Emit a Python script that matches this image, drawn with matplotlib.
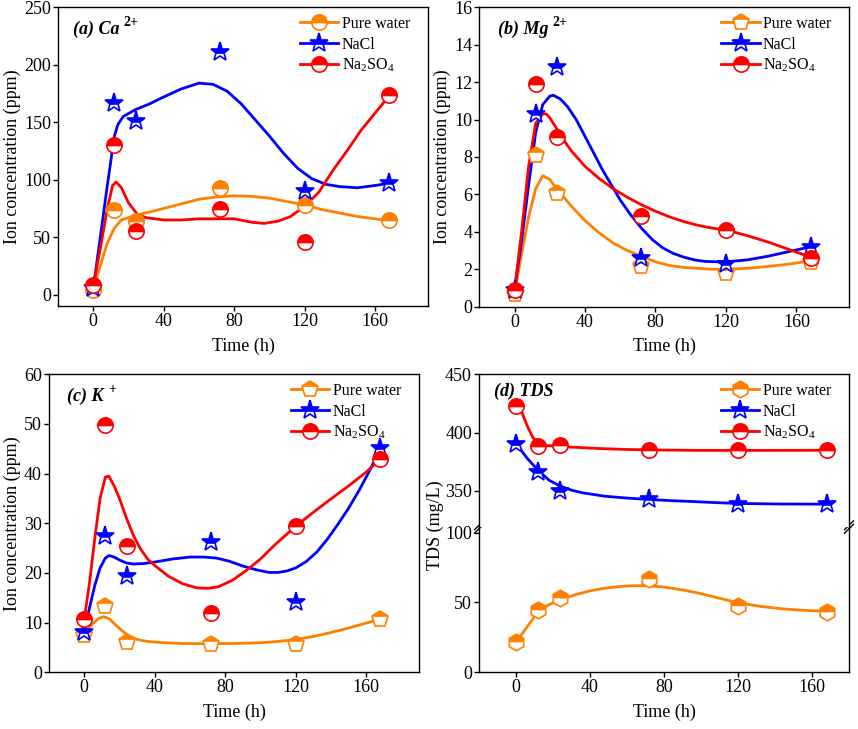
import matplotlib.pyplot as plt
from matplotlib.lines import Line2D

plt.rcParams['font.family'] = ['Liberation Serif', 'DejaVu Serif']
plt.rcParams['mathtext.fontset'] = 'custom'
plt.rcParams['mathtext.rm'] = 'Liberation Serif'
plt.rcParams['mathtext.it'] = 'Liberation Serif:italic'
plt.rcParams['mathtext.bf'] = 'Liberation Serif:bold'

# sampling times (h)
time = [0, 12, 24, 72, 120, 168]
labels = ['Pure water', 'NaCl', r'Na$_2$SO$_4$']
colors = ['#FF8000', '#0000FF', '#FF0000']

# (a) Ca2+ measured points
ca_water = [4, 74, 64, 93, 78, 65]
ca_nacl = [6, 167, 151, 211, 90, 97]
ca_na2so4 = [8, 130, 55, 74.5, 46, 174]
# (a) fitted curves
ca_water_ct = [0, 4, 8, 12, 16, 20, 24, 32, 40, 50, 60, 70, 80, 90, 100, 110, 120, 130, 140, 150, 160, 168]
ca_water_cy = [5, 25, 45, 58, 65, 67, 69, 72, 75, 79, 83, 85, 86, 85.5, 84, 81, 78, 74, 71, 68, 66, 64]
ca_nacl_ct = [0, 4, 8, 12, 14, 17, 24, 32, 40, 50, 60, 68, 76, 84, 92, 100, 108, 116, 124, 132, 140, 150, 160, 168]
ca_nacl_cy = [5, 50, 95, 138, 148, 155, 161, 166, 172, 179, 184, 183, 177, 166, 152, 138, 123, 110, 101, 96, 94, 93, 95, 97]
ca_na2so4_ct = [0, 4, 8, 11, 13, 16, 20, 25, 30, 40, 50, 60, 70, 80, 90, 97, 105, 112, 120, 128, 136, 144, 152, 160, 168]
ca_na2so4_cy = [8, 40, 75, 95, 98, 93, 80, 70, 67, 65, 65, 66, 66, 66, 63, 62, 64, 68, 77, 89, 108, 125, 143, 158, 173]

# (b) Mg2+
mg_water = [0.7, 8.1, 6.1, 2.2, 1.8, 2.4]
mg_nacl = [0.9, 10.3, 12.8, 2.6, 2.3, 3.2]
mg_na2so4 = [0.9, 11.9, 9.05, 4.85, 4.1, 2.6]
mg_water_ct = [0, 4, 8, 12, 16, 20, 24, 32, 40, 48, 56, 64, 72, 80, 88, 96, 104, 112, 120, 132, 144, 156, 168]
mg_water_cy = [0.7, 2.8, 4.8, 6.3, 7.0, 6.8, 6.3, 5.4, 4.6, 3.95, 3.4, 3.0, 2.7, 2.4, 2.2, 2.1, 2.05, 2.0, 2.0, 2.05, 2.15, 2.28, 2.45]
mg_nacl_ct = [0, 4, 8, 12, 16, 20, 22, 26, 30, 35, 40, 45, 50, 55, 60, 66, 72, 78, 84, 90, 96, 102, 108, 114, 120, 132, 144, 156, 168]
mg_nacl_cy = [0.9, 3.5, 6.5, 9.3, 10.8, 11.25, 11.3, 11.1, 10.7, 10.0, 9.1, 8.2, 7.3, 6.5, 5.7, 4.9, 4.2, 3.6, 3.15, 2.85, 2.65, 2.5, 2.42, 2.4, 2.4, 2.5, 2.7, 2.95, 3.2]
mg_na2so4_ct = [0, 4, 8, 12, 16, 18, 20, 24, 28, 32, 40, 48, 56, 64, 72, 80, 88, 96, 104, 112, 120, 132, 144, 156, 168]
mg_na2so4_cy = [0.9, 4.0, 7.5, 9.8, 10.3, 10.3, 10.1, 9.5, 8.9, 8.35, 7.5, 6.85, 6.3, 5.85, 5.45, 5.1, 4.8, 4.55, 4.35, 4.2, 4.1, 3.8, 3.45, 3.05, 2.65]

# (c) K+
k_water = [7.5, 13.4, 6.0, 5.7, 5.7, 10.7]
k_nacl = [8.2, 27.4, 19.3, 26.3, 14.2, 45.1]
k_na2so4 = [10.7, 49.8, 25.4, 11.9, 29.5, 42.9]
k_water_ct = [0, 4, 8, 11, 14, 18, 22, 26, 30, 36, 45, 55, 70, 85, 100, 110, 120, 130, 140, 150, 160, 168]
k_water_cy = [7.9, 9.5, 10.8, 11.2, 10.8, 9.5, 8.2, 7.2, 6.6, 6.2, 5.95, 5.8, 5.75, 5.8, 5.95, 6.2, 6.6, 7.2, 8.0, 8.9, 9.9, 10.7]
k_nacl_ct = [0, 3, 6, 9, 12, 14, 17, 20, 24, 28, 34, 40, 50, 60, 68, 75, 82, 90, 98, 105, 110, 115, 120, 126, 132, 138, 144, 150, 156, 162, 168]
k_nacl_cy = [8.2, 13, 17.5, 21, 23, 23.5, 23.2, 22.6, 22.0, 21.8, 21.9, 22.2, 22.8, 23.2, 23.2, 23.0, 22.4, 21.4, 20.6, 20.1, 20.1, 20.4, 21.0, 22.3, 24.2, 26.8, 29.8, 33.0, 36.6, 40.6, 45.0]
k_na2so4_ct = [0, 3, 6, 9, 12, 14, 17, 20, 24, 28, 32, 36, 40, 48, 56, 64, 70, 76, 84, 92, 100, 108, 115, 120, 130, 140, 150, 160, 168]
k_na2so4_cy = [10.7, 18, 27, 35, 39.3, 39.5, 37.5, 35, 31, 27.5, 24.8, 22.8, 21.5, 19.3, 17.8, 17.0, 16.9, 17.2, 18.5, 20.5, 22.8, 25.6, 27.8, 29.4, 32.2, 34.9, 37.5, 40.3, 42.9]

# (d) TDS
tds_water = [21.5, 44.7, 53.1, 66.5, 47.4, 43.1]
tds_nacl = [390.6, 366.3, 350, 343.4, 338.3, 338.6]
tds_na2so4 = [422.6, 388.3, 389, 385.4, 384.9, 384.9]
tds_water_ct = [0, 6, 12, 18, 24, 32, 40, 48, 56, 64, 72, 80, 90, 100, 110, 120, 132, 144, 156, 168]
tds_water_cy = [21.5, 32.5, 43.5, 48.5, 52, 55.5, 58.3, 60.2, 61.4, 62, 61.9, 61, 59, 56.3, 53, 49.8, 47.2, 45.4, 44.3, 43.6]
tds_nacl_ct = [0, 6, 12, 18, 24, 30, 36, 48, 60, 72, 84, 96, 108, 120, 144, 168]
tds_nacl_cy = [390.6, 378, 367.5, 359, 354, 350.6, 348.3, 345.4, 343.8, 342.6, 341.6, 340.8, 339.9, 339.2, 338.7, 338.6]
tds_na2so4_ct = [0, 3, 6, 9, 12, 16, 20, 30, 45, 60, 80, 100, 130, 168]
tds_na2so4_cy = [422.6, 418, 406, 396, 391, 389, 388.5, 387.5, 386.3, 385.5, 385, 384.7, 384.7, 384.8]

LW = 2.0
FS = 13


def style(ax, xlim, ylim, yticks):
    ax.set_xlim(xlim)
    ax.set_ylim(ylim)
    ax.set_xticks([0, 40, 80, 120, 160])
    ax.set_yticks(yticks)
    ax.tick_params(direction='out', length=3.6, width=1, labelsize=FS, pad=1.5,
                   top=False, right=False)
    for s in ax.spines.values():
        s.set_linewidth(1)


def draw(ax, pts, curves, markers, sizes):
    for i in range(3):
        ct, cy = curves[i]
        ax.plot(ct, cy, '-', color=colors[i], lw=LW, zorder=2)
    for i in range(3):
        ax.plot(time, pts[i], linestyle='none', marker=markers[i], ms=sizes[i],
                fillstyle='top', markerfacecolor=colors[i], markerfacecoloralt='white',
                markeredgecolor=colors[i], markeredgewidth=1.2, zorder=3)


def legend(ax, markers, sizes):
    handles = [Line2D([], [], color=colors[i], lw=LW, marker=markers[i], ms=sizes[i],
                      fillstyle='top', markerfacecolor=colors[i],
                      markerfacecoloralt='white', markeredgecolor=colors[i],
                      markeredgewidth=1.2) for i in range(3)]
    ax.legend(handles, labels, loc='upper right', bbox_to_anchor=(0.975, 1.0),
              frameon=False, fontsize=11.5, handlelength=2.4, handletextpad=0.2,
              labelspacing=0.28, borderaxespad=0.15)


def title(ax, x, y, main, sup):
    t = ax.text(x, y, main, transform=ax.transAxes, fontsize=FS,
                fontweight='bold', style='italic', va='center')
    if sup:
        ax.annotate(sup, xy=(1, 0.55), xycoords=t, xytext=(3, 0),
                    textcoords='offset points', fontsize=10, fontweight='bold',
                    va='bottom', ha='left')


fig = plt.figure(figsize=(8.58, 7.29), dpi=100)

# (a)
ax = fig.add_axes([0.0676, 0.580, 0.4312, 0.410])
mk = ['o', '*', 'o']
sz = [11, 14, 11]
draw(ax, [ca_water, ca_nacl, ca_na2so4],
     [(ca_water_ct, ca_water_cy), (ca_nacl_ct, ca_nacl_cy), (ca_na2so4_ct, ca_na2so4_cy)], mk, sz)
style(ax, (-20, 190), (-10, 250), [0, 50, 100, 150, 200, 250])
legend(ax, mk, sz)
ax.set_xlabel('Time (h)', fontsize=FS, labelpad=5)
ax.set_ylabel('Ion concentration (ppm)', fontsize=FS, labelpad=2)
title(ax, 0.04, 0.925, '(a) Ca', '2+')

# (b)
ax = fig.add_axes([0.5586, 0.5793, 0.4313, 0.4107])
mk = ['p', '*', 'o']
sz = [12, 14, 11]
draw(ax, [mg_water, mg_nacl, mg_na2so4],
     [(mg_water_ct, mg_water_cy), (mg_nacl_ct, mg_nacl_cy), (mg_na2so4_ct, mg_na2so4_cy)], mk, sz)
style(ax, (-20, 190), (0, 16), [0, 2, 4, 6, 8, 10, 12, 14, 16])
legend(ax, mk, sz)
ax.set_xlabel('Time (h)', fontsize=FS, labelpad=5)
ax.set_ylabel('Ion concentration (ppm)', fontsize=FS, labelpad=2)
title(ax, 0.05, 0.925, '(b) Mg', '2+')

# (c)
ax = fig.add_axes([0.0571, 0.0778, 0.4312, 0.4088])
mk = ['p', '*', 'o']
sz = [12, 14, 11]
draw(ax, [k_water, k_nacl, k_na2so4],
     [(k_water_ct, k_water_cy), (k_nacl_ct, k_nacl_cy), (k_na2so4_ct, k_na2so4_cy)], mk, sz)
style(ax, (-20, 190), (0, 60), [0, 10, 20, 30, 40, 50, 60])
legend(ax, mk, sz)
ax.set_xlabel('Time (h)', fontsize=FS, labelpad=5)
ax.set_ylabel('Ion concentration (ppm)', fontsize=FS, labelpad=2)
title(ax, 0.05, 0.925, '(c) K', '+')

# (d) broken axis
mk = ['h', '*', 'o']
sz = [12, 14, 11]
lo = fig.add_axes([0.5583, 0.0778, 0.4312, 0.1993])
hi = fig.add_axes([0.5583, 0.2771, 0.4312, 0.2095])
lo.plot(tds_water_ct, tds_water_cy, '-', color=colors[0], lw=LW, zorder=2)
lo.plot(time, tds_water, linestyle='none', marker=mk[0], ms=sz[0], fillstyle='top',
        markerfacecolor=colors[0], markerfacecoloralt='white', markeredgecolor=colors[0],
        markeredgewidth=1.2, zorder=3)
hi.plot(tds_nacl_ct, tds_nacl_cy, '-', color=colors[1], lw=LW, zorder=2)
hi.plot(tds_na2so4_ct, tds_na2so4_cy, '-', color=colors[2], lw=LW, zorder=2)
hi.plot(time, tds_nacl, linestyle='none', marker=mk[1], ms=sz[1], fillstyle='top',
        markerfacecolor=colors[1], markerfacecoloralt='white', markeredgecolor=colors[1],
        markeredgewidth=1.2, zorder=3)
hi.plot(time, tds_na2so4, linestyle='none', marker=mk[2], ms=sz[2], fillstyle='top',
        markerfacecolor=colors[2], markerfacecoloralt='white', markeredgecolor=colors[2],
        markeredgewidth=1.2, zorder=3)
style(lo, (-20, 180), (0, 104), [0, 50, 100])
style(hi, (-20, 180), (319, 450), [350, 400, 450])
hi.spines['bottom'].set_visible(False)
lo.spines['top'].set_visible(False)
hi.tick_params(bottom=False, labelbottom=False)
legend(hi, mk, sz)
lo.set_xlabel('Time (h)', fontsize=FS, labelpad=5)
title(hi, 0.04, 0.89, '(d) TDS', None)
fig.text(0.507, 0.28, 'TDS (mg/L)', rotation=90, fontsize=FS, va='center', ha='center')

# break marks
for xb in (0.0, 1.0):
    for dy in (-0.012, 0.012):
        lo.plot([xb - 0.012, xb + 0.012], [1.0 + dy - 0.03, 1.0 + dy + 0.03],
                transform=lo.transAxes, color='k', lw=1, clip_on=False)

fig.savefig('out.png', dpi=100)
plt.close()
